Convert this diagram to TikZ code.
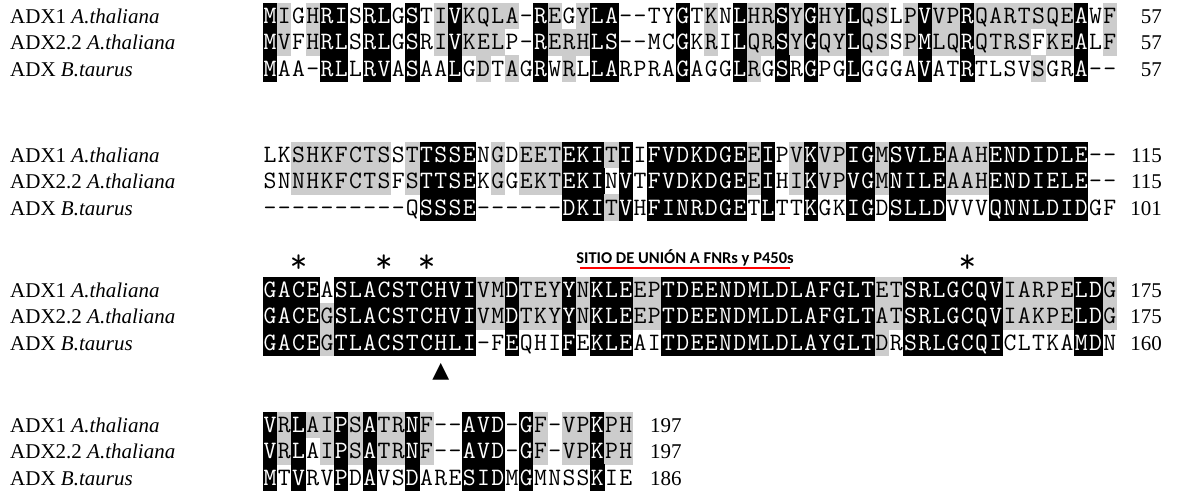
\documentclass[tikz,border=0pt]{standalone}
\usepackage{fontspec}
\setmainfont{Liberation Serif}
\newfontfamily\sitefont{Carlito}
\newfontfamily\symfont{DejaVu Sans}
\usetikzlibrary{positioning}

\newcommand{\seqrow}[3]{%
  \foreach \res/\tone [count=\i] in {#3} {
    \node[\tone] (#1-\i) at ({263+14.23*(\i-0.5)}, #2) {\res};
  }%
}

\begin{document}
\begin{tikzpicture}[
    x=1pt, y=-1pt,
    res/.style={inner sep=0pt, minimum width=14.3pt, minimum height=26.6pt, text height=15.3pt, text depth=0pt, font=\ttfamily\fontsize{25pt}{26pt}\selectfont},
    k/.style={res, fill=black, text=white},
    g/.style={res, fill=gray!40},
    w/.style={res},
    seqlabel/.style={anchor=base west, inner sep=0pt, font=\fontsize{21pt}{24pt}\selectfont},
    seqnum/.style={anchor=base east, inner sep=0pt, font=\fontsize{21pt}{24pt}\selectfont},
    cys/.style={inner sep=0pt, font=\ttfamily\fontsize{34pt}{36pt}\selectfont},
    site/.style={inner sep=0pt, font=\sitefont\bfseries\fontsize{16.5pt}{18pt}\selectfont},
    siteline/.style={draw=red, line width=2.8pt}
  ]
    \fill[white] (0,0) rectangle (1177,491);
    \useasboundingbox (0,0) rectangle (1177,491);

    \foreach \b/\yy in {1/16, 2/155, 3/290, 4/425} {
        \node[seqlabel] (lab\b-1) at (10, \yy+7.5) {ADX1 \textit{A.thaliana}};
        \node[seqlabel] (lab\b-2) at (10, \yy+26.3+7.5) {ADX2.2 \textit{A.thaliana}};
        \node[seqlabel] (lab\b-3) at (10, \yy+52.6+7.5) {ADX \textit{B.taurus}};
    }

    \seqrow{b1r1}{16}{M/k,I/g,G/w,H/g,R/k,I/k,S/w,R/k,L/k,G/w,S/k,T/w,I/g,V/k,K/g,Q/g,L/g,A/g,-/w,R/k,E/g,G/w,Y/g,L/k,A/k,-/w,-/w,T/w,Y/w,G/k,T/w,K/g,N/w,L/k,H/g,R/g,S/k,Y/g,G/k,H/g,Y/g,L/k,Q/g,S/g,L/w,P/g,V/k,V/g,P/g,R/k,Q/g,A/g,R/g,T/g,S/g,Q/g,E/g,A/k,W/w,F/g}
    \seqrow{b1r2}{42.3}{M/k,V/g,F/w,H/g,R/k,L/k,S/w,R/k,L/k,G/w,S/k,R/w,I/g,V/k,K/g,E/g,L/g,P/w,-/w,R/k,E/g,R/g,H/g,L/k,S/k,-/w,-/w,M/w,C/w,G/k,K/w,R/g,I/w,L/k,Q/g,R/g,S/k,Y/g,G/k,Q/g,Y/g,L/k,Q/g,S/g,S/w,P/g,M/k,L/g,Q/g,R/k,Q/g,T/g,R/g,S/g,F/w,K/g,E/g,A/k,L/w,F/g}
    \seqrow{b1r3}{68.6}{M/k,A/w,A/w,-/w,R/k,L/k,L/w,R/k,V/k,A/w,S/k,A/w,A/w,L/k,G/w,D/g,T/w,A/g,G/w,R/k,W/w,R/g,L/w,L/k,A/k,R/w,P/w,R/w,A/w,G/k,A/w,G/w,G/w,L/k,R/g,G/w,S/k,R/w,G/k,P/w,G/w,L/k,G/w,G/w,G/w,A/w,V/k,A/w,T/w,R/k,T/w,L/w,S/w,V/w,S/g,G/w,R/w,A/k,-/w,-/w}

    \seqrow{b2r1}{155}{L/w,K/w,S/g,H/g,K/g,F/g,C/g,T/g,S/g,S/w,T/g,T/k,S/k,S/k,E/k,N/w,G/g,D/w,E/g,E/g,T/g,E/k,K/k,I/k,T/g,I/k,I/w,F/k,V/k,D/k,K/k,D/k,G/k,E/k,E/g,I/k,P/w,V/g,K/k,V/g,P/g,I/k,G/k,M/g,S/k,V/k,L/k,E/k,A/g,A/g,H/g,E/k,N/k,D/k,I/k,D/k,L/k,E/k,-/w,-/w}
    \seqrow{b2r2}{181.3}{S/w,N/w,N/g,H/g,K/g,F/g,C/g,T/g,S/g,F/w,S/g,T/k,T/k,S/k,E/k,K/w,G/g,G/w,E/g,K/g,T/g,E/k,K/k,I/k,N/w,V/k,T/w,F/k,V/k,D/k,K/k,D/k,G/k,E/k,E/g,I/k,H/w,I/g,K/k,V/g,P/g,V/k,G/k,M/g,N/k,I/k,L/k,E/k,A/g,A/g,H/g,E/k,N/k,D/k,I/k,E/k,L/k,E/k,-/w,-/w}
    \seqrow{b2r3}{207.6}{-/w,-/w,-/w,-/w,-/w,-/w,-/w,-/w,-/w,-/w,Q/w,S/k,S/k,S/k,E/k,-/w,-/w,-/w,-/w,-/w,-/w,D/k,K/k,I/k,T/g,V/k,H/w,F/k,I/k,N/k,R/k,D/k,G/k,E/k,T/w,L/k,T/w,T/w,K/k,G/w,K/w,I/k,G/k,D/w,S/k,L/k,L/k,D/k,V/w,V/w,V/w,Q/k,N/k,N/k,L/k,D/k,I/k,D/k,G/w,F/w}

    \seqrow{b3r1}{290}{G/k,A/k,C/k,E/k,A/w,S/k,L/k,A/k,C/k,S/k,T/k,C/k,H/k,V/k,I/k,V/g,M/g,D/k,T/g,E/g,Y/g,Y/k,N/g,K/k,L/k,E/k,E/g,P/g,T/k,D/k,E/k,E/k,N/k,D/k,M/k,L/k,D/k,L/k,A/k,F/k,G/k,L/k,T/k,E/g,T/g,S/k,R/k,L/k,G/k,C/k,Q/k,V/k,I/g,A/g,R/g,P/g,E/g,L/k,D/k,G/g}
    \seqrow{b3r2}{316.3}{G/k,A/k,C/k,E/k,G/g,S/k,L/k,A/k,C/k,S/k,T/k,C/k,H/k,V/k,I/k,V/g,M/g,D/k,T/g,K/g,Y/g,Y/k,N/g,K/k,L/k,E/k,E/g,P/g,T/k,D/k,E/k,E/k,N/k,D/k,M/k,L/k,D/k,L/k,A/k,F/k,G/k,L/k,T/k,A/g,T/g,S/k,R/k,L/k,G/k,C/k,Q/k,V/k,I/g,A/g,K/g,P/g,E/g,L/k,D/k,G/g}
    \seqrow{b3r3}{342.6}{G/k,A/k,C/k,E/k,G/g,T/k,L/k,A/k,C/k,S/k,T/k,C/k,H/k,L/k,I/k,-/w,F/w,E/k,Q/w,H/w,I/w,F/k,E/w,K/k,L/k,E/k,A/w,I/w,T/k,D/k,E/k,E/k,N/k,D/k,M/k,L/k,D/k,L/k,A/k,Y/k,G/k,L/k,T/k,D/g,R/w,S/k,R/k,L/k,G/k,C/k,Q/k,I/k,C/w,L/w,T/w,K/w,A/w,M/k,D/k,N/w}

    \seqrow{b4r1}{425}{V/k,R/g,L/k,A/g,I/g,P/k,S/g,A/k,T/g,R/g,N/k,F/g,-/w,-/w,A/k,V/k,D/k,-/w,G/k,F/g,-/w,V/g,P/g,K/k,P/g,H/g}
    \seqrow{b4r2}{451.3}{V/k,R/g,L/k,A/w,I/g,P/k,S/g,A/k,T/g,R/g,N/k,F/g,-/w,-/w,A/k,V/k,D/k,-/w,G/k,F/g,-/w,V/g,P/g,K/k,P/g,H/g}
    \seqrow{b4r3}{477.6}{M/k,T/w,V/k,R/w,V/w,P/k,D/w,A/k,V/w,S/w,D/k,A/w,R/w,E/w,S/k,I/k,D/k,M/w,G/k,M/w,N/w,S/w,S/w,K/k,I/w,E/w}

    \foreach \b/\yy/\na/\nb/\nc in {1/16/57/57/57, 2/155/115/115/101, 3/290/175/175/160} {
        \node[seqnum] (num\b-1) at (1162, \yy+7.5) {\na};
        \node[seqnum] (num\b-2) at (1162, \yy+26.3+7.5) {\nb};
        \node[seqnum] (num\b-3) at (1162, \yy+52.6+7.5) {\nc};
    }
    \node[seqnum, anchor=base west] (num4-1) at (650, 425+7.5) {197};
    \node[seqnum, anchor=base west] (num4-2) at (650, 451.3+7.5) {197};
    \node[seqnum, anchor=base west] (num4-3) at (650, 477.6+7.5) {186};

    \node[cys, above=4pt of b3r1-3] (cys1) {*};
    \node[cys, above=4pt of b3r1-9] (cys2) {*};
    \node[cys, above=4pt of b3r1-12] (cys3) {*};
    \node[cys, above=4pt of b3r1-50] (cys4) {*};
    \node[inner sep=0pt, font=\symfont\fontsize{22pt}{24pt}\selectfont, below=7pt of b3r3-13] (his) {▲};

    \node[site, anchor=base] (site) at (685, 263) {SITIO DE UNIÓN A FNRs y P450s};
    \draw[siteline] ([xshift=4pt, yshift=-5pt]site.base west) -- ([xshift=-4pt, yshift=-5pt]site.base east);
\end{tikzpicture}
\end{document}
